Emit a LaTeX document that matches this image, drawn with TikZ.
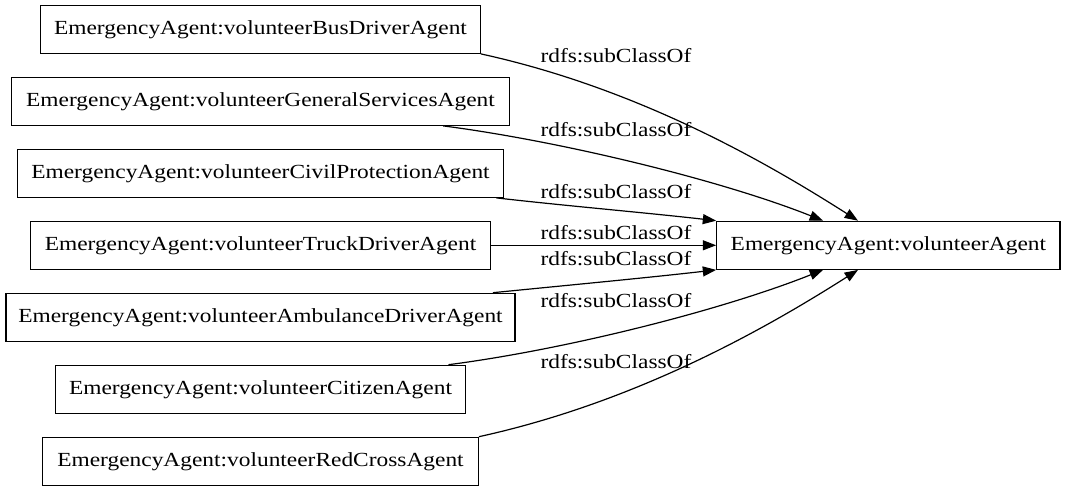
\documentclass[tikz,border=0pt]{standalone}
\usepackage{fontspec}
\setmainfont{Liberation Serif}[FakeStretch=1.17]
\usetikzlibrary{arrows.meta,calc}
\begin{document}
\begin{tikzpicture}[x=0.75pt,y=-0.75pt,
  box/.style={draw,line width=0.9pt,rectangle,minimum height=36pt,inner sep=0pt,font=\fontsize{15}{18}\selectfont},
  lbl/.style={inner sep=0pt,font=\fontsize{15}{18}\selectfont},
  edge/.style={draw,line width=0.9pt,-{Triangle[length=10pt,width=7.5pt]}}]
\useasboundingbox (0,0) rectangle (1065,491);
\node[box,minimum width=329.6pt] (bus) at (260.5,29.3) {EmergencyAgent:volunteerBusDriverAgent};
\node[box,minimum width=374pt] (gs) at (260.5,101.3) {EmergencyAgent:volunteerGeneralServicesAgent};
\node[box,minimum width=364.9pt] (cp) at (260.5,173.3) {EmergencyAgent:volunteerCivilProtectionAgent};
\node[box,minimum width=344.8pt] (tr) at (260.5,245.3) {EmergencyAgent:volunteerTruckDriverAgent};
\node[box,minimum width=381.8pt] (amb) at (260.5,317.3) {EmergencyAgent:volunteerAmbulanceDriverAgent};
\node[box,minimum width=308pt] (cit) at (260.5,389.3) {EmergencyAgent:volunteerCitizenAgent};
\node[box,minimum width=326.7pt] (rc) at (260.5,461.3) {EmergencyAgent:volunteerRedCrossAgent};
\node[box,minimum width=257.5pt] (va) at (888.4,245.3) {EmergencyAgent:volunteerAgent};
\path (bus.south east) coordinate (s1);
\path ([xshift=137pt]gs.south) coordinate (s2);
\path ([xshift=-6pt]cp.south east) coordinate (s3);
\path ([xshift=-17pt]amb.north east) coordinate (s5);
\path ([xshift=141pt]cit.north) coordinate (s6);
\path ([xshift=-49pt]va.north) coordinate (tA);
\path ([xshift=-22.8pt]va.north) coordinate (tB);
\path ([xshift=-49pt]va.south) coordinate (bA);
\path ([xshift=-22.8pt]va.south) coordinate (bB);
\draw[edge] (s1) .. controls +(160,35) and +(-88,-56) .. (tB);
\draw[edge] (s2) .. controls +(116,15) and +(-103,-41) .. (tA);
\draw[edge] (s3) .. controls +(70,8) and +(-70,-8) .. (va.north west);
\draw[edge] (tr.east) -- (va.west);
\draw[edge] (s5) .. controls +(70,-7) and +(-70,8) .. (va.south west);
\draw[edge] (s6) .. controls +(116,-15) and +(-103,41) .. (bA);
\draw[edge] (rc.north east) .. controls +(160,-35) and +(-88,56) .. (bB);
\node[lbl] (l1) at (616,56) {rdfs:subClassOf};
\node[lbl] (l2) at (616,130) {rdfs:subClassOf};
\node[lbl] (l3) at (616,192) {rdfs:subClassOf};
\node[lbl] (l4) at (616,233) {rdfs:subClassOf};
\node[lbl] (l5) at (616,259) {rdfs:subClassOf};
\node[lbl] (l6) at (616,301) {rdfs:subClassOf};
\node[lbl] (l7) at (616,362) {rdfs:subClassOf};
\end{tikzpicture}
\end{document}
